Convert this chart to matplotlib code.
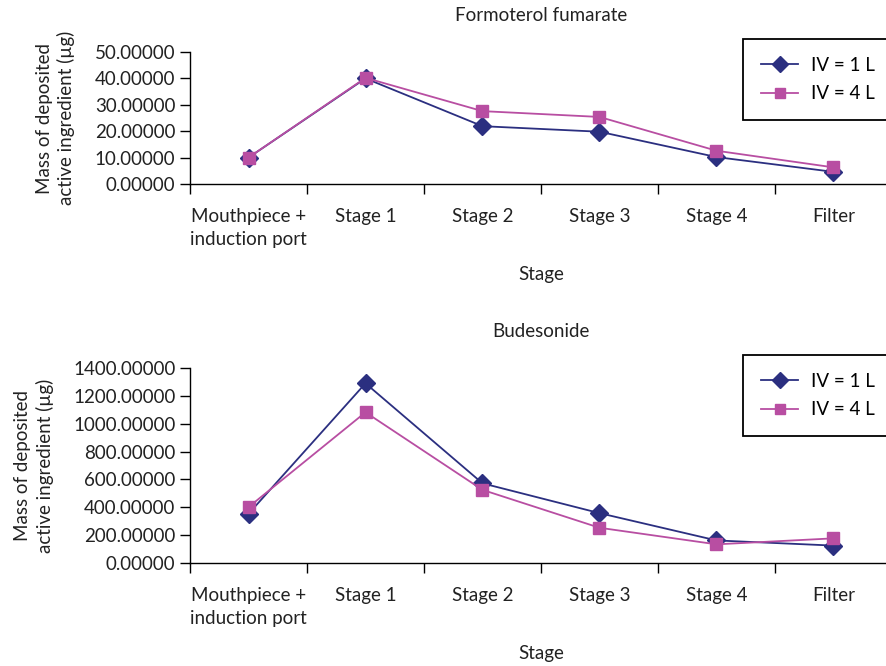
import matplotlib
matplotlib.use("Agg")
from matplotlib import pyplot as plt

plt.rcParams['font.family'] = ['Lato', 'DejaVu Sans']

stages = ["Mouthpiece +\ninduction port", "Stage 1", "Stage 2", "Stage 3", "Stage 4", "Filter"]

form_1L = [10.0, 40.0, 21.9, 19.8, 10.2, 4.6]
form_4L = [10.0, 40.2, 27.6, 25.4, 12.6, 6.3]
form_ticks = [0, 10, 20, 30, 40, 50]

bud_1L = [353, 1290, 572, 358, 162, 125]
bud_4L = [401, 1082, 525, 253, 134, 177]
bud_ticks = [0, 200, 400, 600, 800, 1000, 1200, 1400]

navy = "#2b2f80"
pink = "#b84ea2"
txt = "#222222"
W, H = 886.0, 666.0

fig = plt.figure(figsize=(8.86, 6.66), dpi=100)


def panel(rect, title, v1, v4, yticks, leg_top):
    ax = fig.add_axes(rect)
    x = list(range(len(stages)))
    ax.plot(x, v1, color=navy, marker='D', markersize=9, lw=1.3, label="IV = 1 L")
    ax.plot(x, v4, color=pink, marker='s', markersize=9, lw=1.3, label="IV = 4 L")
    ax.set_xlim(-0.5, 5.5)
    ax.set_ylim(yticks[0], yticks[-1])
    ax.set_yticks(yticks)
    ax.set_yticklabels(["%.5f" % t for t in yticks])
    ax.set_xticks([i - 0.5 for i in range(len(stages) + 1)])
    ax.set_xticklabels([])
    ax.set_xticks(x, minor=True)
    ax.set_xticklabels(stages, minor=True, linespacing=1.45)
    ax.tick_params(axis='x', which='major', direction='out', length=7, width=1)
    ax.tick_params(axis='x', which='minor', length=0, pad=17, labelsize=13.5, colors=txt)
    ax.tick_params(axis='y', direction='out', length=7, width=1, labelsize=13.5, colors=txt)
    ax.tick_params(axis='both', color='black')
    for s in ['top', 'right']:
        ax.spines[s].set_visible(False)
    for s in ['left', 'bottom']:
        ax.spines[s].set_linewidth(1.0)
    ax.set_title(title, fontsize=13.5, pad=22, color=txt)
    ax.set_xlabel("Stage", fontsize=13.5, labelpad=13, color=txt)
    ax.set_ylabel("Mass of deposited\nactive ingredient (\u00b5g)", fontsize=13.5,
                  color=txt, linespacing=1.3, labelpad=14)
    leg = ax.legend(loc='upper left', bbox_to_anchor=(743 / W, 1 - leg_top / H),
                    bbox_transform=fig.transFigure, fancybox=False, framealpha=1,
                    edgecolor='black', fontsize=13.5, handlelength=2.0,
                    handletextpad=0.7, borderpad=0.95, borderaxespad=0,
                    labelspacing=0.62, markerscale=0.85)
    leg.get_frame().set_linewidth(1.3)
    return ax


panel([190 / W, 1 - 184 / H, 702 / W, 132 / H], "Formoterol fumarate",
      form_1L, form_4L, form_ticks, 39)
panel([190 / W, 1 - 563 / H, 702 / W, 195 / H], "Budesonide",
      bud_1L, bud_4L, bud_ticks, 355)

fig.savefig("out.png", dpi=100)
